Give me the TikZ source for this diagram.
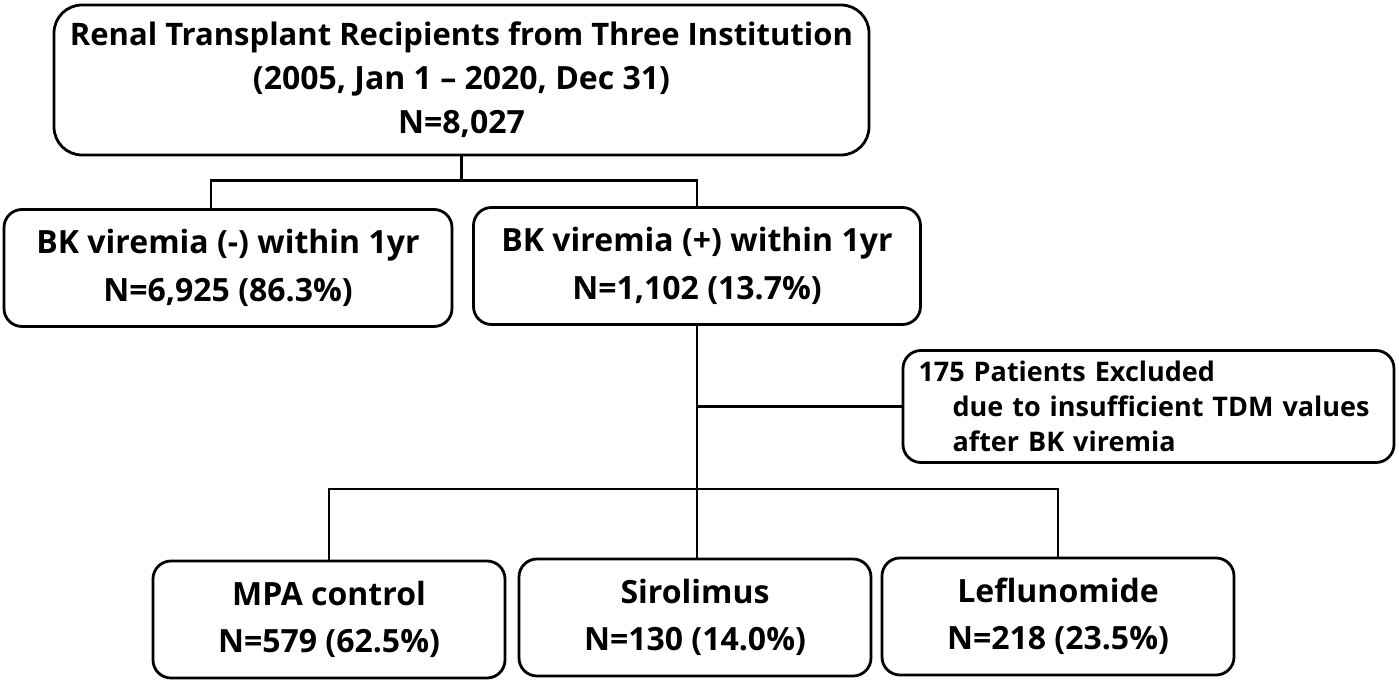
\documentclass[tikz,border=0pt]{standalone}
\usepackage{fontspec}
\setmainfont{Open Sans}
\begin{document}
\begin{tikzpicture}
[x=0.5pt,y=-0.5pt,
  boxdecorate/.style={draw,line width=1.4pt,rounded corners=9pt,inner sep=0pt,
    align=center,font=\bfseries\fontsize{16}{24}\selectfont},
  linedecorate/.style={-,line width=1.2pt}]
\useasboundingbox (0,0) rectangle (1399,683);
%% nodes or boxes
\node (top) at (461.5,80) [boxdecorate,minimum width=407.5pt,minimum height=75pt,
  rounded corners=14pt,font=\bfseries\fontsize{16}{22}\selectfont]
  {{\fontsize{15.5}{22}\selectfont Renal Transplant Recipients from Three Institution}\\(2005, Jan 1 – 2020, Dec 31)\\N=8,027};
\foreach \nodename/\x/\y/\boxwidth/\first/\second in {neg/228/268/224/{BK viremia (-) within 1yr}/{N=6,925 (86.3\%)},
  pos/697/266/223.5/{BK viremia (+) within 1yr}/{N=1,102 (13.7\%)}} {
  \node (\nodename) at (\x,\y) [boxdecorate,minimum width=\boxwidth pt,minimum height=58.5pt] {\first\\\second};
}
\foreach \nodename/\x/\y/\first/\second in {mpa/329/619.5/MPA control/{N=579 (62.5\%)},
  siro/695/617.5/Sirolimus/{N=130 (14.0\%)}, lef/1058/616.5/Leflunomide/{N=218 (23.5\%)}} {
  \node (\nodename) at (\x,\y) [boxdecorate,minimum width=176pt,minimum height=58.5pt,
    font=\bfseries\fontsize{16}{23.5}\selectfont] {\first\\\second};
}
\node (excl) at (1148.5,406.5) [boxdecorate,minimum width=245.5pt,minimum height=56pt,
  text width=230pt,align=left,font=\bfseries\fontsize{13.5}{17.5}\selectfont]
  {\mbox{175 Patients Excluded}\\\mbox{\hspace*{17pt}due to insufficient TDM values}\\\mbox{\hspace*{17pt}after BK viremia}};
%% edges or lines
\path (top.south) ++(0,24) coordinate (split);
\coordinate (negtap) at ([xshift=-8.5pt]neg.north);
\coordinate (joinlevel) at (0,489);
\coordinate (join) at (pos.south |- joinlevel);
\coordinate (exit) at (pos.south |- excl.west);
\draw[linedecorate] (top.south) -- (split);
\draw[linedecorate] (negtap) |- (split) -| (pos.north);
\draw[linedecorate] (pos.south) -- (pos.south |- siro.north);
\draw[linedecorate] (exit) -- (excl.west);
\draw[linedecorate] (mpa.north) |- (join) -| (lef.north);
\end{tikzpicture}
\end{document}
